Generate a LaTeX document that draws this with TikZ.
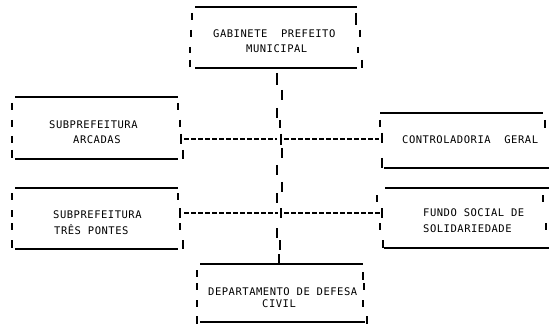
\documentclass[tikz,border=0pt]{standalone}
\usepackage{fontspec}
\newfontfamily\boxfont[LetterSpace=5]{DejaVu Sans Mono}
\newcommand\pipeset[1]{\foreach \px/\pa/\pb in {#1} {\draw[pipe] (\px,\pa) -- (\px,\pb);}}
\tikzset{
  edge/.style={line width=2pt},
  pipe/.style={line width=2pt},
  link/.style={line width=1.6pt, dash pattern=on 5pt off 2pt},
  lbl/.style={anchor=base west, inner sep=0pt, font=\boxfont\fontsize{10.5}{12}\selectfont}
}
\begin{document}
\begin{tikzpicture}[x=1pt,y=-1pt]
\useasboundingbox (0,0) rectangle (549,326);
% ---------- texts ----------
\node[lbl] (gab1) at (213,37.5) {GABINETE\ \ PREFEITO};
\node[lbl] (gab2) at (246,53) {MUNICIPAL};
\node[lbl] (sa1) at (49,128.5) {SUBPREFEITURA};
\node[lbl] (sa2) at (73,143.5) {ARCADAS};
\node[lbl] (cg1) at (402,143.5) {CONTROLADORIA\ \ GERAL};
\node[lbl] (st1) at (53,218) {SUBPREFEITURA};
\node[lbl] (st2) at (54,234) {TRÊS PONTES};
\node[lbl] (fs1) at (423,216.5) {FUNDO SOCIAL DE};
\node[lbl] (fs2) at (423,232.5) {SOLIDARIEDADE};
\node[lbl] (dd1) at (208,295) {DEPARTAMENTO DE DEFESA};
\node[lbl] (dd2) at (262,307.5) {CIVIL};
% ---------- box: gabinete ----------
\draw[edge] (195,7) -- (357,7);
\draw[edge] (195,68) -- (357,68);
\pipeset{192/13/20, 191/30/37, 190/47/53, 190/60/67, 356/13/25, 360/30/37, 358/47/53, 362/60/68}
% ---------- box: subprefeitura arcadas ----------
\draw[edge] (15,97) -- (178,97);
\draw[edge] (15,159) -- (178,159);
\pipeset{12/103/110, 12/120/127, 12/136/143, 12/150/158, 178/103/110, 180/120/127, 181/134/144, 183/150/159}
% ---------- box: controladoria ----------
\draw[edge] (380,113) -- (543,113);
\draw[edge] (384,168) -- (549,168);
\pipeset{380/120/127, 382/133/143, 382/158/168, 545/120/128}
% ---------- box: subprefeitura tres pontes ----------
\draw[edge] (15,188) -- (178,188);
\draw[edge] (15,249) -- (178,249);
\pipeset{12/193/200, 12/210/217, 12/223/230, 12/240/248, 178/193/200, 180/208/218, 180/223/230, 183/240/249}
% ---------- box: fundo social ----------
\draw[edge] (385,188) -- (549,188);
\draw[edge] (384,248) -- (549,248);
\pipeset{377/195/202, 382/208/218, 380/223/230, 383/240/248, 543/195/202, 546/223/230}
% ---------- box: departamento ----------
\draw[edge] (200,264) -- (363,264);
\draw[edge] (200,322) -- (365,322);
\pipeset{197/270/277, 197/283/290, 197/300/307, 197/316/324, 363/272/280, 364/283/290, 363/300/307, 367/316/324}
% ---------- trunk ----------
\pipeset{277/73/85, 282/90/100, 277/108/118, 280/120/128, 281/134/145, 282/148/158, 277/165/175, 282/182/192, 277/193/203, 281/208/218, 277/228/238, 280/240/250, 279/254/264}
% ---------- connectors ----------
\coordinate (saE) at (184,139);
\coordinate (t1w) at (277,139);
\coordinate (t1e) at (284,139);
\coordinate (cgW) at (379,139);
\coordinate (stE) at (184,213);
\coordinate (t2w) at (278,213);
\coordinate (t2e) at (284,213);
\coordinate (fsW) at (381,213);
\draw[link] (saE) -- (t1w);
\draw[link] (t1e) -- (cgW);
\draw[link] (stE) -- (t2w);
\draw[link] (t2e) -- (fsW);
\end{tikzpicture}
\end{document}
